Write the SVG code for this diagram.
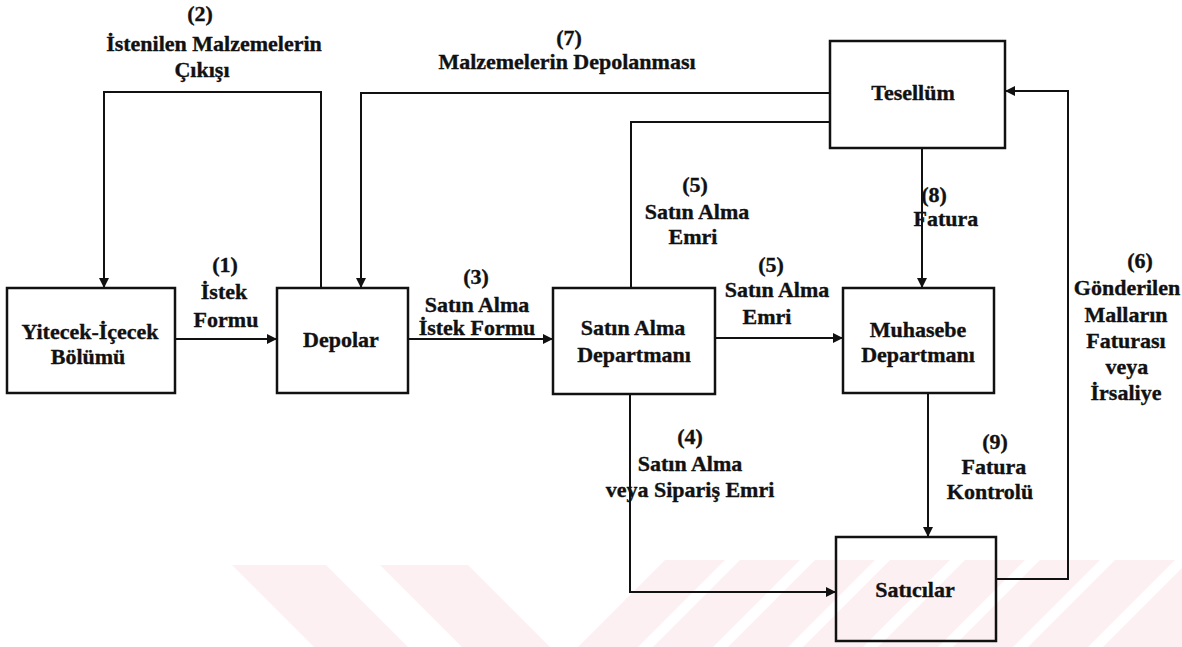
<svg xmlns="http://www.w3.org/2000/svg" width="1182" height="647" viewBox="0 0 1182 647">
  <style>
    .box { fill: none; stroke: #111; stroke-width: 2.5; }
    .wire { fill: none; stroke: #111; stroke-width: 2; }
    .lbl { font-family: 'Liberation Serif', 'Times New Roman', 'DejaVu Serif', serif; font-weight: bold; font-size: 22px; fill: #111; stroke: #111; stroke-width: 0.35; text-anchor: middle; }
    .mark { fill: #fdf0f2; }
  </style>
  <defs>
    <marker id="arrow" viewBox="0 0 10 10" refX="10" refY="5" markerWidth="10" markerHeight="10" markerUnits="userSpaceOnUse" orient="auto">
      <path d="M0,0 L10,5 L0,10 Z" fill="#111"/>
    </marker>
  </defs>

  <rect width="1182" height="647" fill="#fff"/>

  <!-- faint background mark -->
  <g id="background-mark">
    <polygon class="mark" points="232,565 326,565 408,647 314,647"/>
    <polygon class="mark" points="380,565 468,565 550,647 462,647"/>
    <polygon class="mark" points="578,647 665,560 725,560 638,647"/>
    <polygon class="mark" points="653,647 740,560 800,560 713,647"/>
    <polygon class="mark" points="728,647 815,560 875,560 788,647"/>
    <polygon class="mark" points="803,647 890,560 950,560 863,647"/>
    <polygon class="mark" points="878,647 965,560 1025,560 938,647"/>
    <polygon class="mark" points="953,647 1040,560 1100,560 1013,647"/>
    <polygon class="mark" points="1028,647 1115,560 1175,560 1088,647"/>
    <polygon class="mark" points="1103,647 1182,568 1182,647"/>
  </g>

  <!-- connectors -->
  <g id="connectors">
    <path class="wire" d="M175,339 H277" marker-end="url(#arrow)"/>
    <path class="wire" d="M408,339 H553" marker-end="url(#arrow)"/>
    <path class="wire" d="M715,338 H843" marker-end="url(#arrow)"/>
    <path class="wire" d="M321,288 V92 H104 V288" marker-end="url(#arrow)"/>
    <path class="wire" d="M830,93 H361 V288" marker-end="url(#arrow)"/>
    <path class="wire" d="M631,288 V122 H830"/>
    <path class="wire" d="M922,148 V288" marker-end="url(#arrow)"/>
    <path class="wire" d="M928,393 V537" marker-end="url(#arrow)"/>
    <path class="wire" d="M630,394 V592 H836" marker-end="url(#arrow)"/>
    <path class="wire" d="M996,579 H1068 V91 H1005" marker-end="url(#arrow)"/>
  </g>

  <!-- connector labels -->
  <g id="labels" class="lbl">
    <text x="200" y="21">(2)</text>
    <text x="214" y="51">İstenilen Malzemelerin</text>
    <text x="202" y="77">Çıkışı</text>

    <text x="569" y="45">(7)</text>
    <text x="567" y="69">Malzemelerin Depolanması</text>

    <text x="225" y="272">(1)</text>
    <text x="224" y="299">İstek</text>
    <text x="226" y="327">Formu</text>

    <text x="476" y="284">(3)</text>
    <text x="477" y="312">Satın Alma</text>
    <text x="477" y="335">İstek Formu</text>

    <text x="771" y="272">(5)</text>
    <text x="777" y="297">Satın Alma</text>
    <text x="767" y="324">Emri</text>

    <text x="695" y="192">(5)</text>
    <text x="697" y="219">Satın Alma</text>
    <text x="693" y="244">Emri</text>

    <text x="934" y="202">(8)</text>
    <text x="946" y="226">Fatura</text>

    <text x="1140" y="268">(6)</text>
    <text x="1127" y="295">Gönderilen</text>
    <text x="1126" y="322">Malların</text>
    <text x="1126" y="348">Faturası</text>
    <text x="1127" y="374">veya</text>
    <text x="1126" y="400">İrsaliye</text>

    <text x="690" y="444">(4)</text>
    <text x="690" y="471">Satın Alma</text>
    <text x="690" y="497">veya Sipariş Emri</text>

    <text x="995" y="449">(9)</text>
    <text x="994" y="474">Fatura</text>
    <text x="990" y="499">Kontrolü</text>
  </g>

  <!-- nodes -->
  <g id="yiyecek-icecek" class="lbl">
    <rect class="box" x="7" y="288" width="168" height="105"/>
    <text x="90" y="339">Yitecek-İçecek</text>
    <text x="88" y="364">Bölümü</text>
  </g>
  <g id="depolar" class="lbl">
    <rect class="box" x="277" y="288" width="131" height="105"/>
    <text x="341" y="347">Depolar</text>
  </g>
  <g id="satin-alma" class="lbl">
    <rect class="box" x="553" y="288" width="162" height="106"/>
    <text x="633" y="335">Satın Alma</text>
    <text x="634" y="362">Departmanı</text>
  </g>
  <g id="muhasebe" class="lbl">
    <rect class="box" x="843" y="288" width="151" height="105"/>
    <text x="918" y="337">Muhasebe</text>
    <text x="918" y="362">Departmanı</text>
  </g>
  <g id="tesellum" class="lbl">
    <rect class="box" x="830" y="41" width="175" height="107"/>
    <text x="913" y="100">Tesellüm</text>
  </g>
  <g id="saticilar" class="lbl">
    <rect class="box" x="836" y="537" width="160" height="104"/>
    <text x="915" y="597">Satıcılar</text>
  </g>
</svg>
